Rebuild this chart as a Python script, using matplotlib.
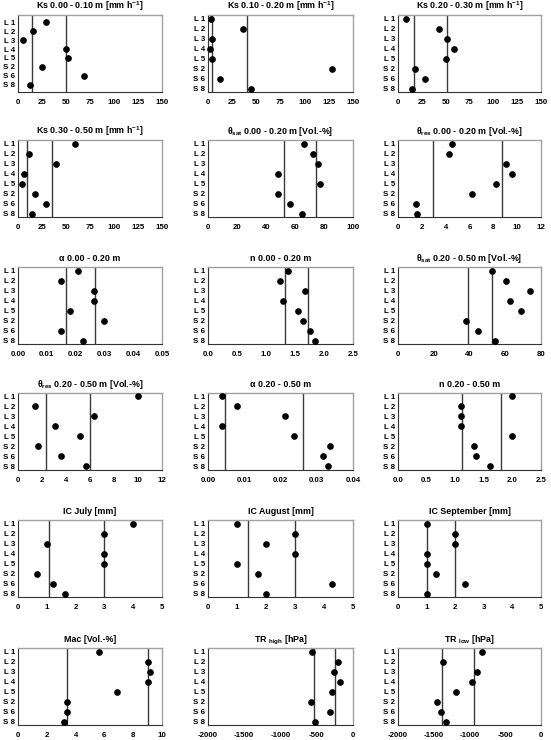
import matplotlib
matplotlib.use("Agg")
import matplotlib.pyplot as plt
from matplotlib.ticker import MultipleLocator, FormatStrFormatter

plt.rcParams["font.family"] = ["Liberation Sans", "DejaVu Sans"]
plt.rcParams["font.weight"] = "bold"
plt.rcParams["mathtext.fontset"] = "custom"
plt.rcParams["mathtext.rm"] = "Liberation Sans:bold"
plt.rcParams["mathtext.it"] = "Liberation Sans:bold"
plt.rcParams["mathtext.default"] = "rm"

sites = ["L 1", "L 2", "L 3", "L 4", "L 5", "S 2", "S 6", "S 8"]

ks_0010 = [29.5, 16, 5, 49.5, 52, 25, 69, 13]
ks_0010_lines = [15, 50.5]
ks_1020 = [3.5, 36.5, 4.5, 2, 4.5, 128, 12, 44.5]
ks_1020_lines = [4, 40.5]
ks_2030 = [8.5, 42.5, 51.5, 58.5, 50.5, 17.5, 28.5, 14.5]
ks_2030_lines = [16.5, 51.5]
ks_3050 = [59, 11, 40, 6, 4.5, 18, 29, 15]
ks_3050_lines = [9, 35]
theta_sat_0020 = [66, 72.5, 76, 48.5, 77.5, 48.5, 56.5, 65]
theta_sat_0020_lines = [52.5, 74.5]
theta_res_0020 = [4.5, 4.3, 9.05, 9.55, 8.2, 6.2, 1.55, 1.57]
theta_res_0020_lines = [2.9, 8.7]
alpha_0020 = [0.0209, 0.0149, 0.0264, 0.0264, 0.0182, 0.0300, 0.0150, 0.0224]
alpha_0020_lines = [0.0165, 0.0266]
n_0020 = [1.385, 1.247, 1.665, 1.287, 1.56, 1.64, 1.75, 1.85]
n_0020_lines = [1.33, 1.73]
theta_sat_2050 = [52.7, 60.4, 73.6, 62.8, 69, 37.8, 45, 54.1]
theta_sat_2050_lines = [39, 52.8]
theta_res_2050 = [9.98, 1.4, 6.32, 3.12, 5.2, 1.63, 3.57, 5.7]
theta_res_2050_lines = [2.33, 5.99]
alpha_2050 = [0.0038, 0.0079, 0.0213, 0.0038, 0.0238, 0.0336, 0.0316, 0.0330]
alpha_2050_lines = [0.0046, 0.0261]
n_2050 = [2.0, 1.10, 1.11, 1.11, 2.0, 1.32, 1.36, 1.60]
n_2050_lines = [1.115, 1.80]
ic_july = [4, 3, 1, 3, 3, 0.67, 1.22, 1.64]
ic_july_lines = [1.09, 3]
ic_august = [1, 3, 2, 3, 1, 1.73, 4.29, 2]
ic_august_lines = [1.375, 3]
ic_september = [1, 2, 2, 1, 1, 1.32, 2.35, 1]
ic_september_lines = [1, 2]
mac = [5.6, 9.02, 9.16, 9.02, 6.9, 3.4, 3.4, 3.2]
mac_lines = [3.4, 9.04]
tr_high = [-560, -212, -268, -180, -285, -582, -317, -530]
tr_high_lines = [-537, -243]
tr_low = [-820, -1376, -898, -972, -1190, -1448, -1395, -1333]
tr_low_lines = [-1385, -934]

# title, values, lines, (xmin, xmax), step, tick format
panels = [
    ("Ks 0.00 - 0.10 m [mm h$^{-1}$]", ks_0010, ks_0010_lines, (0, 150), 25, "%d"),
    ("Ks 0.10 - 0.20 m [mm h$^{-1}$]", ks_1020, ks_1020_lines, (0, 150), 25, "%d"),
    ("Ks 0.20 - 0.30 m [mm h$^{-1}$]", ks_2030, ks_2030_lines, (0, 150), 25, "%d"),
    ("Ks 0.30 - 0.50 m [mm h$^{-1}$]", ks_3050, ks_3050_lines, (0, 150), 25, "%d"),
    ("θ$_{sat}$ 0.00 - 0.20 m [Vol.-%]", theta_sat_0020, theta_sat_0020_lines, (0, 100), 20, "%d"),
    ("θ$_{res}$ 0.00 - 0.20 m [Vol.-%]", theta_res_0020, theta_res_0020_lines, (0, 12), 2, "%d"),
    ("α 0.00 - 0.20 m", alpha_0020, alpha_0020_lines, (0, 0.05), 0.01, "%.2f"),
    ("n 0.00 - 0.20 m", n_0020, n_0020_lines, (0, 2.5), 0.5, "%.1f"),
    ("θ$_{sat}$ 0.20 - 0.50 m [Vol.-%]", theta_sat_2050, theta_sat_2050_lines, (0, 80), 20, "%d"),
    ("θ$_{res}$ 0.20 - 0.50 m [Vol.-%]", theta_res_2050, theta_res_2050_lines, (0, 12), 2, "%d"),
    ("α 0.20 - 0.50 m", alpha_2050, alpha_2050_lines, (0, 0.04), 0.01, "%.2f"),
    ("n 0.20 - 0.50 m", n_2050, n_2050_lines, (0, 2.5), 0.5, "%.1f"),
    ("IC July [mm]", ic_july, ic_july_lines, (0, 5), 1, "%d"),
    ("IC August [mm]", ic_august, ic_august_lines, (0, 5), 1, "%d"),
    ("IC September [mm]", ic_september, ic_september_lines, (0, 5), 1, "%d"),
    ("Mac [Vol.-%]", mac, mac_lines, (0, 10), 2, "%d"),
    ("TR $_{high}$ [hPa]", tr_high, tr_high_lines, (-2000, 0), 500, "%d"),
    ("TR $_{low}$ [hPa]", tr_low, tr_low_lines, (-2000, 0), 500, "%d"),
]

W, H = 551, 740
fig = plt.figure(figsize=(W / 100, H / 100), dpi=100)
fig.patch.set_facecolor("white")

col_left = [18, 208, 398]
col_width = [144, 145, 143]
row_top = [15, 140, 267, 393, 520, 648]
ax_h = 77

for i, (title, vals, lines, xlim, step, fmt) in enumerate(panels):
    r, c = divmod(i, 3)
    ax = fig.add_axes([col_left[c] / W, 1 - (row_top[r] + ax_h) / H,
                       col_width[c] / W, ax_h / H])
    y = list(range(len(sites)))
    for v in lines:
        ax.axvline(v, color="#3a3a3a", lw=1.0, zorder=1)
    ax.plot(vals, y, "o", color="black", ms=3.8, zorder=3, clip_on=False)
    pad = 0.8 if i == 0 else 0.35
    ax.set_ylim(len(sites) - 1 + pad, -pad)
    ax.set_yticks(y)
    ax.set_yticklabels(sites)
    ax.set_xlim(*xlim)
    ax.xaxis.set_major_locator(MultipleLocator(step))
    ax.xaxis.set_major_formatter(FormatStrFormatter(fmt))
    ax.tick_params(axis="y", length=0, pad=2, labelsize=5.7)
    ax.tick_params(axis="x", length=0, pad=5, labelsize=5.7)
    for side in ["left", "bottom"]:
        ax.spines[side].set_color("#333333")
        ax.spines[side].set_linewidth(0.8)
    for side in ["top", "right"]:
        ax.spines[side].set_color("#a0a0a0")
        ax.spines[side].set_linewidth(1.0)
    ax.set_title(title, fontsize=6.4, fontweight="bold", pad=4)

fig.savefig("out.png", dpi=100)
